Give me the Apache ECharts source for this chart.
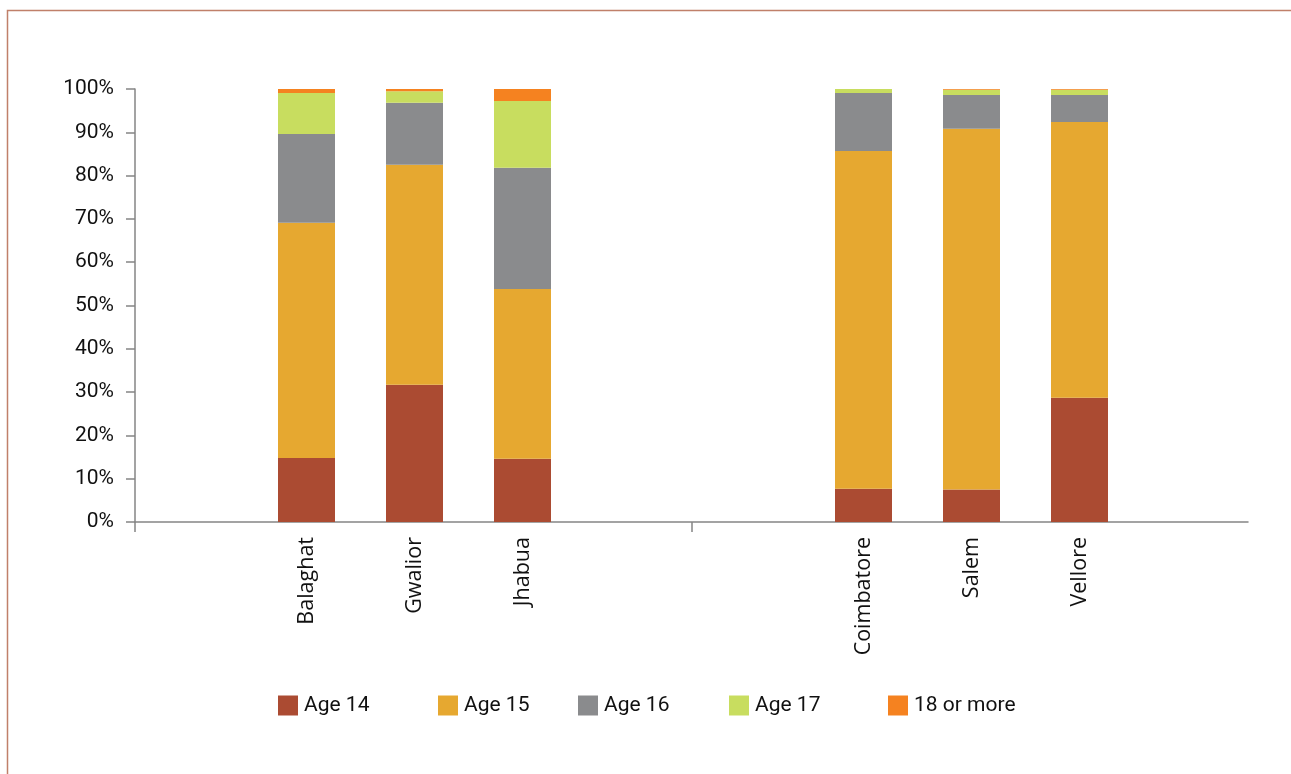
<!DOCTYPE html>
<html>
<head>
<meta charset="utf-8">
<title>Age distribution by district</title>
<script src="https://cdn.jsdelivr.net/npm/echarts@6/dist/echarts.min.js"></script>
<style>
  html, body { margin: 0; padding: 0; background: #ffffff; }
  #chart { width: 1291px; height: 774px; }
</style>
</head>
<body>
<div id="chart"></div>
<script>
// Districts, split into the two state groups shown side by side
const groupA = ['Balaghat', 'Gwalior', 'Jhabua'];
const groupB = ['Coimbatore', 'Salem', 'Vellore'];

// Share of respondents (%) per age band, in district order: groupA then groupB
const age14   = [14.8, 31.7, 14.6, 7.7, 7.5, 28.7];
const age15   = [54.3, 50.8, 39.2, 78.0, 83.3, 63.7];
const age16   = [20.5, 14.3, 28.0, 13.4, 7.8, 6.2];
const age17   = [9.5, 2.7, 15.4, 0.9, 1.2, 1.2];
const age18up = [0.9, 0.5, 2.8, 0.0, 0.2, 0.2];

const seriesNames = ['Age 14', 'Age 15', 'Age 16', 'Age 17', '18 or more'];
const seriesValues = [age14, age15, age16, age17, age18up];
const colors = ['#AB4B32', '#E6A830', '#8A8B8D', '#C8DD5F', '#F58220'];

const yTicks = [0, 10, 20, 30, 40, 50, 60, 70, 80, 90, 100];

const axisColor = '#858585';
const labelFont = 'Roboto, "DejaVu Sans", sans-serif';
const catFont = '"Open Sans", "Liberation Sans", sans-serif';

const TOP = 89, HEIGHT = 433;

const chart = echarts.init(document.getElementById('chart'), null, { renderer: 'canvas' });

// Build one stacked bar series per age band for each district group
const series = [];
seriesNames.forEach((name, i) => {
  const vals = seriesValues[i];
  series.push({
    name: name, type: 'bar', stack: 'A', xAxisIndex: 1, yAxisIndex: 1,
    barWidth: 57, itemStyle: { color: colors[i] },
    data: vals.slice(0, groupA.length)
  });
  series.push({
    name: name, type: 'bar', stack: 'B', xAxisIndex: 2, yAxisIndex: 2,
    barWidth: 57, itemStyle: { color: colors[i] },
    data: vals.slice(groupA.length)
  });
});

// One legend per entry so each can sit at its own spot on the row
const legendLefts = [278, 438, 578, 729, 888];
const legends = seriesNames.map((name, i) => ({
  data: [name],
  left: legendLefts[i],
  top: 695,
  padding: 0,
  orient: 'horizontal',
  itemWidth: 20,
  itemHeight: 20,
  itemGap: 0,
  icon: 'rect',
  textStyle: {
    fontFamily: labelFont, fontSize: 21, color: '#111',
    padding: i === 0 ? [7, 0, 0, 1] : [0, 0, 0, 1]
  },
  selectedMode: true
}));

const option = {
  backgroundColor: '#ffffff',
  animation: false,
  legend: legends,
  grid: [
    // frame: carries the percentage axis and the long category baseline
    { left: 135, right: 43, top: TOP, height: HEIGHT },
    // first group of districts
    { left: 252.5, width: 324, top: TOP, height: HEIGHT },
    // second group of districts
    { left: 809.5, width: 324, top: TOP, height: HEIGHT }
  ],
  xAxis: [
    {
      gridIndex: 0, type: 'value', min: 0, max: 2,
      axisLine: { show: true, lineStyle: { color: axisColor, width: 1.5 } },
      axisTick: { show: true, customValues: [0, 1], length: 10, lineStyle: { color: axisColor, width: 1.5 } },
      axisLabel: { show: false },
      splitLine: { show: false }
    },
    {
      gridIndex: 1, type: 'category', data: groupA,
      axisLine: { show: false }, axisTick: { show: false }, splitLine: { show: false },
      axisLabel: { rotate: 90, margin: 15, fontFamily: catFont, fontSize: 21.5, color: '#111' }
    },
    {
      gridIndex: 2, type: 'category', data: groupB,
      axisLine: { show: false }, axisTick: { show: false }, splitLine: { show: false },
      axisLabel: { rotate: 90, margin: 15, fontFamily: catFont, fontSize: 21.5, color: '#111' }
    }
  ],
  yAxis: [
    {
      gridIndex: 0, type: 'value', min: yTicks[0], max: yTicks[yTicks.length - 1], interval: 10,
      axisLine: { show: true, lineStyle: { color: axisColor, width: 1.5 } },
      axisTick: { show: true, length: 9, lineStyle: { color: axisColor, width: 1.5 } },
      axisLabel: { margin: 21, formatter: '{value}%', fontFamily: labelFont, fontSize: 21, color: '#111' },
      splitLine: { show: false }
    },
    { gridIndex: 1, type: 'value', min: 0, max: 100, show: false, splitLine: { show: false } },
    { gridIndex: 2, type: 'value', min: 0, max: 100, show: false, splitLine: { show: false } }
  ],
  graphic: [
    {
      type: 'rect', silent: true, z: -1,
      shape: { x: 7.5, y: 10.5, width: 1400, height: 900 },
      style: { fill: null, stroke: '#C0806A', lineWidth: 1.5 }
    }
  ],
  series: series
};

chart.setOption(option);
</script>
</body>
</html>
